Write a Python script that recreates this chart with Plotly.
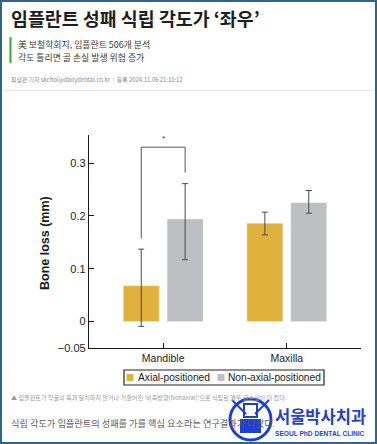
import plotly.graph_objects as go

# ---------------- data ----------------
categories = ["Mandible", "Maxilla"]
series_names = ["Axial-positioned", "Non-axial-positioned"]
axial_values = [0.068, 0.186]
axial_err_plus = [0.069, 0.021]
axial_err_minus = [0.077, 0.022]
nonaxial_values = [0.194, 0.225]
nonaxial_err_plus = [0.067, 0.023]
nonaxial_err_minus = [0.077, 0.020]
y_tick_values = [-0.05, 0, 0.1, 0.2, 0.3]
y_tick_labels = ["\u22120.05", "0", "0.1", "0.2", "0.3"]
bracket_left_bottom = 0.157
bracket_right_bottom = 0.282
bracket_top = 0.33

title_text = "임플란트 성패 식립 각도가 ‘좌우’"
sub1 = "美 보철학회지, 임플란트 506개 분석"
sub2 = "각도 틀리면 골 손실 발생 위험 증가"
byline = "최상관 기자 skchoi@dailydental.co.kr <span style='color:#cccccc'>&nbsp;|&nbsp;</span> 등록 2024.11.06 21:10:12"
caption = "▲ 임플란트가 악골의 축과 일치하지 않거나 기울어진 ‘비축방향(Nonaxial)’으로 식립된 경우 골손실이 더 컸다."
body = "식립 각도가 임플란트의 성패를 가를 핵심 요소라는 연구결과가 나왔다."
logo_ko = "서울박사치과"
logo_en = "SEOUL PhD DENTAL CLINIC"

GOLD = "#E1B23B"
GREY = "#BEBFC2"
ERR = "#4a4a4a"
BLUE = "#1f3fd4"
KFONT = "Noto Sans CJK KR"
LFONT = "Liberation Sans"

W, H = 377, 444
L, R, T, B = 89, 361, 135, 348
BARGAP = 0.29
BARGROUPGAP = 0.18


def px(x):
    return (x - L) / (R - L)


def py(y):
    return (B - y) / (B - T)


fig = go.Figure()
fig.add_trace(go.Bar(
    x=categories, y=axial_values, name=series_names[0], marker_color=GOLD,
    error_y=dict(type="data", array=axial_err_plus, arrayminus=axial_err_minus,
                 color=ERR, thickness=1, width=3),
))
fig.add_trace(go.Bar(
    x=categories, y=nonaxial_values, name=series_names[1], marker_color=GREY,
    error_y=dict(type="data", array=nonaxial_err_plus, arrayminus=nonaxial_err_minus,
                 color=ERR, thickness=1, width=3),
))

off = (1 - BARGAP) / 4
shapes = []
# significance bracket
for xa, ya, xb, yb in [
    (-off, bracket_left_bottom, -off, bracket_top),
    (-off, bracket_top, off, bracket_top),
    (off, bracket_top, off, bracket_right_bottom),
]:
    shapes.append(dict(type="line", xref="x", yref="y", x0=xa, y0=ya, x1=xb, y1=yb,
                       line=dict(color="#555555", width=1)))

# page frame
shapes.append(dict(type="rect", xref="paper", yref="paper", x0=px(1), x1=px(376), y0=py(1), y1=py(443),
                   line=dict(color="#31648a", width=2), layer="above"))
# green bar next to subtitle
shapes.append(dict(type="line", xref="paper", yref="paper", x0=px(10.5), x1=px(10.5), y0=py(37), y1=py(63),
                   line=dict(color="#3aa43a", width=2)))
# separator
shapes.append(dict(type="line", xref="paper", yref="paper", x0=px(3), x1=px(374), y0=py(90.5), y1=py(90.5),
                   line=dict(color="#e8e8e8", width=1)))
# custom legend box
shapes.append(dict(type="rect", xref="paper", yref="paper", x0=px(124), x1=px(324), y0=py(370), y1=py(385),
                   line=dict(color="#222222", width=1.2), fillcolor="white"))
shapes.append(dict(type="rect", xref="paper", yref="paper", x0=px(126.5), x1=px(133.5), y0=py(374), y1=py(381),
                   line=dict(width=0), fillcolor=GOLD))
shapes.append(dict(type="rect", xref="paper", yref="paper", x0=px(217.5), x1=px(224.5), y0=py(374), y1=py(381),
                   line=dict(width=0), fillcolor=GREY))
# emblem (approximate)
shapes.append(dict(type="circle", xref="paper", yref="paper", x0=px(230), x1=px(271), y0=py(399), y1=py(440),
                   line=dict(color=BLUE, width=3), fillcolor="white"))
shapes.append(dict(type="rect", xref="paper", yref="paper", x0=px(244), x1=px(257), y0=py(404), y1=py(417),
                   line=dict(color=BLUE, width=2), fillcolor="white"))
shapes.append(dict(type="rect", xref="paper", yref="paper", x0=px(241), x1=px(260), y0=py(420), y1=py(432),
                   line=dict(color=BLUE, width=2), fillcolor=BLUE))
shapes.append(dict(type="line", xref="paper", yref="paper", x0=px(232), x1=px(246), y0=py(400), y1=py(414),
                   line=dict(color=BLUE, width=2)))
shapes.append(dict(type="line", xref="paper", yref="paper", x0=px(269), x1=px(255), y0=py(400), y1=py(414),
                   line=dict(color=BLUE, width=2)))


def ann(x, y, text, size, color, family=KFONT, xanchor="left", yanchor="middle", **kw):
    return dict(xref="paper", yref="paper", x=px(x), y=py(y), text=text, showarrow=False,
                xanchor=xanchor, yanchor=yanchor, font=dict(family=family, size=size, color=color), **kw)


annotations = [
    ann(9, 18, "<b>" + title_text + "</b>", 18.4, "#1e1e1e"),
    ann(16, 44.5, sub1, 8.9, "#3a3a3a"),
    ann(16, 57.5, sub2, 8.9, "#3a3a3a"),
    ann(9, 79, byline, 5.9, "#8a8a8a"),
    dict(xref="paper", yref="paper", x=px(45), y=py(243), text="<b>Bone loss (mm)</b>", textangle=-90,
         showarrow=False, xanchor="center", yanchor="middle",
         font=dict(family=LFONT, size=12.5, color="#1a1a1a")),
    dict(xref="x", yref="y", x=0, y=bracket_top + 0.004, text="*", showarrow=False,
         xanchor="center", yanchor="bottom", font=dict(family=LFONT, size=8, color="#333333")),
    ann(136, 377.5, series_names[0], 10.2, "#1a1a1a", family=LFONT),
    ann(226, 377.5, series_names[1], 10.2, "#1a1a1a", family=LFONT),
    ann(9, 397, caption, 6.1, "#9a9a9a"),
    ann(9, 423, body, 9.2, "#5a5a5a"),
    ann(273, 416, "<b>" + logo_ko + "</b>", 16.5, BLUE, bgcolor="rgba(255,255,255,0.85)"),
    ann(320, 433.5, "<b>" + logo_en + "</b>", 6.6, BLUE, family=LFONT, xanchor="center"),
]

fig.update_layout(
    width=W, height=H,
    margin=dict(l=L, r=W - R, t=T, b=H - B, autoexpand=False),
    paper_bgcolor="white", plot_bgcolor="white",
    barmode="group", bargap=BARGAP, bargroupgap=BARGROUPGAP,
    showlegend=False,
    shapes=shapes, annotations=annotations,
    font=dict(family=LFONT, color="#222222"),
    xaxis=dict(range=[-0.6, 1.6], showline=True, linecolor="#1a1a1a", linewidth=1.3,
               ticks="inside", ticklen=5, tickcolor="#1a1a1a", showgrid=False,
               tickfont=dict(family=LFONT, size=10.5, color="#222222"), fixedrange=True),
    yaxis=dict(range=[-0.05, 0.353], showline=True, linecolor="#1a1a1a", linewidth=1.3,
               ticks="inside", ticklen=5, tickcolor="#1a1a1a", showgrid=False, zeroline=False,
               tickvals=y_tick_values, ticktext=y_tick_labels,
               tickfont=dict(family=LFONT, size=11, color="#222222"), fixedrange=True),
)

fig.write_html("out.html", config={"displayModeBar": False},
               post_script="document.body.style.margin='0';document.body.style.overflow='hidden';")
